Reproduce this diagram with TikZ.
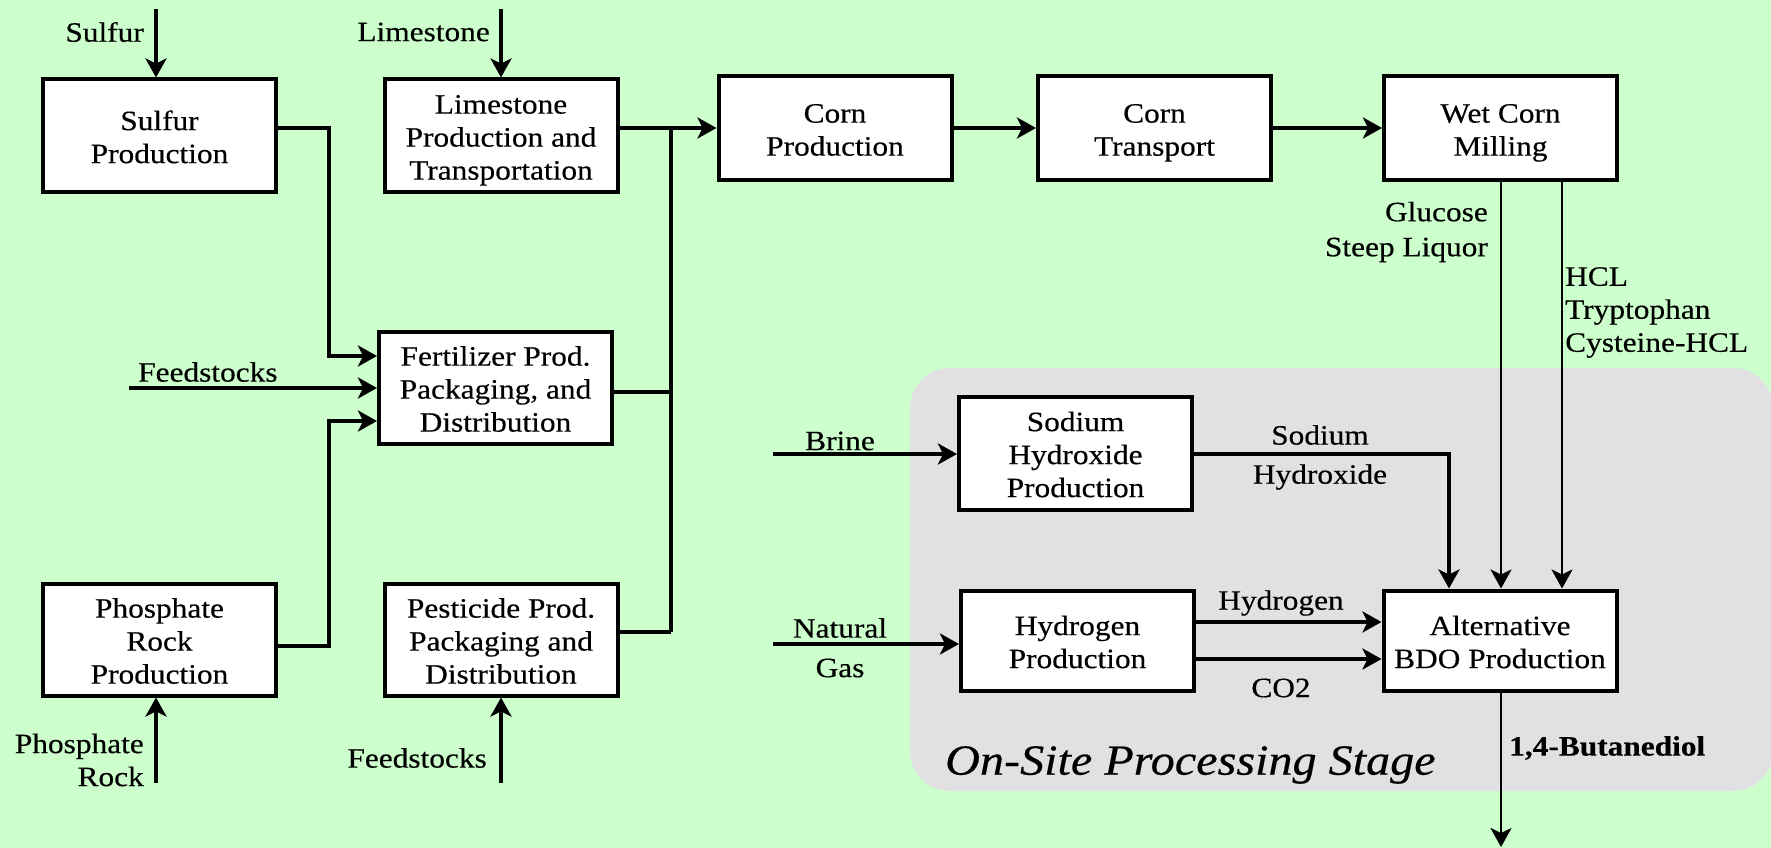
\documentclass[tikz,border=0pt]{standalone}
\usepackage{fontspec}
\setmainfont{Liberation Serif}[FakeStretch=1.12,FakeBold=0.4]
\usetikzlibrary{arrows.meta,calc}
\definecolor{bggreen}{HTML}{CCFFCC}
\definecolor{sitegray}{HTML}{E1E1E3}
\newcommand\boxtext[1]{\raisebox{-4.5pt}[\height][\depth]{\begin{tabular}{@{}c@{}}#1\end{tabular}}}
\begin{document}
\begin{tikzpicture}[x=1pt,y=-1pt,
  box/.style={draw=black, fill=white, line width=4pt,
    minimum width=233pt, minimum height=112pt, inner sep=0pt,
    font=\fontsize{28}{33}\selectfont},
  lbl/.style={inner sep=0pt, font=\fontsize{28}{33}\selectfont},
  tip/.tip={Stealth[length=19pt,width=21pt,inset=5pt]},
  flow/.style={line width=3.3pt, -tip},
  thinflow/.style={line width=2.8pt, -tip},
  pipe/.style={line width=3.3pt}]
\useasboundingbox (0,0) rectangle (1771,848);
\fill[bggreen] (0,0) rectangle (1771,848);
\begin{scope}
\clip (0,0) rectangle (1771,848);
\fill[sitegray, rounded corners=40pt] (910,368) rectangle (1773,791);
\end{scope}

% boxes
\node[box] (sulf) at (159.5,135.5) {\boxtext{Sulfur\\Production}};
\node[box] (lime) at (501,135.5) {\boxtext{Limestone\\Production and\\Transportation}};
\node[box] (fert) at (495.5,387.5) {\boxtext{Fertilizer Prod.\\Packaging, and\\Distribution}};
\node[box] (phos) at (159.5,639.5) {\boxtext{Phosphate\\Rock\\Production}};
\node[box] (pest) at (501,639.5) {\boxtext{Pesticide Prod.\\Packaging and\\Distribution}};
\node[box, minimum height=103pt] (cornp) at (835,128) {\boxtext{Corn\\Production}};
\node[box, minimum height=103pt] (cornt) at (1154.5,128) {\boxtext{Corn\\Transport}};
\node[box, minimum height=103pt] (wcm) at (1500.5,128) {\boxtext{Wet Corn\\Milling}};
\node[box, minimum height=113pt] (naoh) at (1075.5,453) {\boxtext{Sodium\\Hydroxide\\Production}};
\node[box, minimum height=100pt] (h2) at (1077.5,640.5) {\boxtext{Hydrogen\\Production}};
\node[box, minimum height=100pt] (bdo) at (1500,640.5) {\boxtext{Alternative\\BDO Production}};

% free ends and bends
\coordinate (sulfin) at (156,9);
\coordinate (limein) at (501,9);
\coordinate (feedin) at (129,388);
\coordinate (phosin) at (156,783);
\coordinate (pestin) at (501,783);
\coordinate (sA) at (329,128);
\coordinate (sB) at (329,356);
\coordinate (pA) at (329,646);
\coordinate (pB) at (329,421);
\coordinate (cTop) at (671,128);
\coordinate (cFert) at (671,392);
\coordinate (cPest) at (671,632);
\coordinate (brinein) at (773,454);
\coordinate (gasin) at (773,644);
\coordinate (naA) at (1449,454);
\coordinate (hclA) at (1562,181);
\coordinate (out) at (1501,847);

% labels
\node[lbl, anchor=east] (lsulf) at (144,32) {Sulfur};
\node[lbl, anchor=east] (llime) at (490,32) {Limestone};
\node[lbl, anchor=west] (lfeed) at (138,372) {Feedstocks};
\node[lbl, anchor=east, align=right] (lphos) at (144,760) {Phosphate\\Rock};
\node[lbl, anchor=east] (lfeed2) at (487,758) {Feedstocks};
\node[lbl, anchor=east, align=right, font=\fontsize{28}{35}\selectfont] (lgluc) at (1488,232) {Glucose\\Steep Liquor};
\node[lbl, anchor=west, align=left] (lhcl) at (1565,312.5) {HCL\\Tryptophan\\Cysteine-HCL};
\node[lbl] (lsod1) at (1320,435) {Sodium};
\node[lbl] (lsod2) at (1320,477) {Hydroxide};
\node[lbl] (lhyd) at (1281,603) {Hydrogen};
\node[lbl] (lco2) at (1281,688) {CO2};
\node[lbl] (lbrine) at (840,441) {Brine};
\node[lbl] (lnat) at (840,628) {Natural};
\node[lbl] (lgas) at (840,668) {Gas};
\node[lbl, anchor=west, font=\fontsize{28}{33}\selectfont\bfseries] (lbdo) at (1509,748) {1,4-Butanediol};
\node[lbl, anchor=west, font=\fontsize{43}{50}\selectfont\itshape] (lsite) at (945,765) {On-Site Processing Stage};

% connectors
\draw[flow] (sulfin) -- (sulfin |- sulf.north);
\draw[flow] (limein) -- (limein |- lime.north);
\draw[flow] (feedin) -- (feedin -| fert.west);
\draw[flow] (phosin) -- (phosin |- phos.south);
\draw[flow] (pestin) -- (pestin |- pest.south);
\draw[flow] (sulf.east |- sA) -- (sA) -- (sB) -- (sB -| fert.west);
\draw[flow] (phos.east |- pA) -- (pA) -- (pB) -- (pB -| fert.west);
\draw[flow] (lime.east |- cornp.west) -- (cornp.west);
\draw[pipe] (cTop) -- (cPest);
\draw[pipe] (fert.east |- cFert) -- (cFert);
\draw[pipe] (pest.east |- cPest) -- (cPest);
\draw[flow] (cornp.east) -- (cornt.west);
\draw[flow] (cornt.east) -- (wcm.west);
\draw[thinflow] (wcm.south -| out) -- (bdo.north -| out);
\draw[thinflow] (hclA) -- (hclA |- bdo.north);
\draw[flow] (brinein) -- (brinein -| naoh.west);
\draw[flow] (gasin) -- (gasin -| h2.west);
\draw[flow] (naoh.east |- naA) -- (naA) -- (naA |- bdo.north);
\draw[flow] ([yshift=18.5pt]h2.east) -- ([yshift=18.5pt]bdo.west);
\draw[flow] ([yshift=-18.5pt]h2.east) -- ([yshift=-18.5pt]bdo.west);
\draw[thinflow] (bdo.south -| out) -- (out);
\end{tikzpicture}
\end{document}
